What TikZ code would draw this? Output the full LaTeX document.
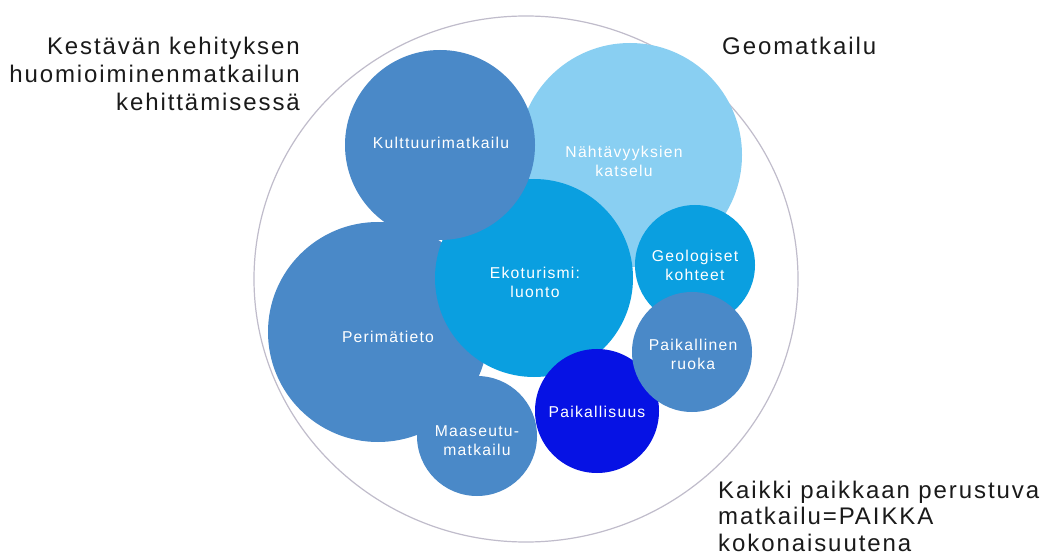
\documentclass[tikz,border=0pt]{standalone}
\usepackage{fontspec}
\setmainfont{Liberation Sans}[LetterSpace=8]
\usetikzlibrary{shapes.geometric}
\definecolor{steel}{HTML}{4A89C8}
\definecolor{lightsky}{HTML}{89CFF2}
\definecolor{eco}{HTML}{0A9FE0}
\definecolor{deep}{HTML}{0612E4}
\definecolor{rim}{HTML}{C0BCCB}
\definecolor{ink}{HTML}{1A1A1A}
\begin{document}
\begin{tikzpicture}[x=1bp,y=-1bp,
  bub/.style={circle,inner sep=0pt,minimum size={2*#1 bp}},
  intext/.style={text=white,align=center,inner sep=0pt,anchor=base,
    font=\fontsize{15.7bp}{19bp}\selectfont},
  outtext/.style={text=ink,inner sep=0pt,
    font=\fontsize{24bp}{28.3bp}\selectfont}]
\useasboundingbox (0,0) rectangle (1046,557);
\fill[white] (0,0) rectangle (1046,557);
\node[ellipse,draw=rim,line width=1.2bp,inner sep=0pt,
  minimum width=544bp,minimum height=526bp] (frame) at (526,279) {};
% bubbles, in stacking order
\node[bub=112,fill=lightsky] (nah) at (630,155) {};
\node[bub=110,fill=steel] (per) at (378,332) {};
\node[bub=99,fill=eco] (eko) at (534,278) {};
\node[bub=95,fill=steel] (kul) at (440,145) {};
\node[bub=60,fill=eco] (geo) at (695,265) {};
\node[bub=62,fill=deep] (pai) at (597,411) {};
\node[bub=60,fill=steel] (ruo) at (692,352) {};
\node[bub=60,fill=steel] (maa) at (477,436) {};
% labels (anchor = baseline of the last line)
\node[intext] (tkul) at (441,148.5) {Kulttuurimatkailu};
\node[intext] (tnah) at (624,177) {Nähtävyyksien\\katselu};
\node[intext] (teko) at (535,298) {Ekoturismi:\\luonto};
\node[intext] (tper) at (388,343) {Perimätieto};
\node[intext] (tgeo) at (695,281) {Geologiset\\kohteet};
\node[intext] (truo) at (693,370) {Paikallinen\\ruoka};
\node[intext] (tpai) at (597,417) {Paikallisuus};
\node[intext] (tmaa) at (477,455) {Maaseutu-\\matkailu};
% outer texts
\node[outtext,align=right,anchor=base east] (sust) at (300,111)
  {Kestävän kehityksen\\huomioiminenmatkailun\\kehittämisessä};
\node[outtext,anchor=base west] (gm) at (722,55) {Geomatkailu};
\node[outtext,align=left,anchor=base west,
  font=\fontsize{24bp}{26.5bp}\selectfont] (all) at (718,551)
  {Kaikki paikkaan perustuva\\matkailu=PAIKKA\\kokonaisuutena};
\end{tikzpicture}
\end{document}
